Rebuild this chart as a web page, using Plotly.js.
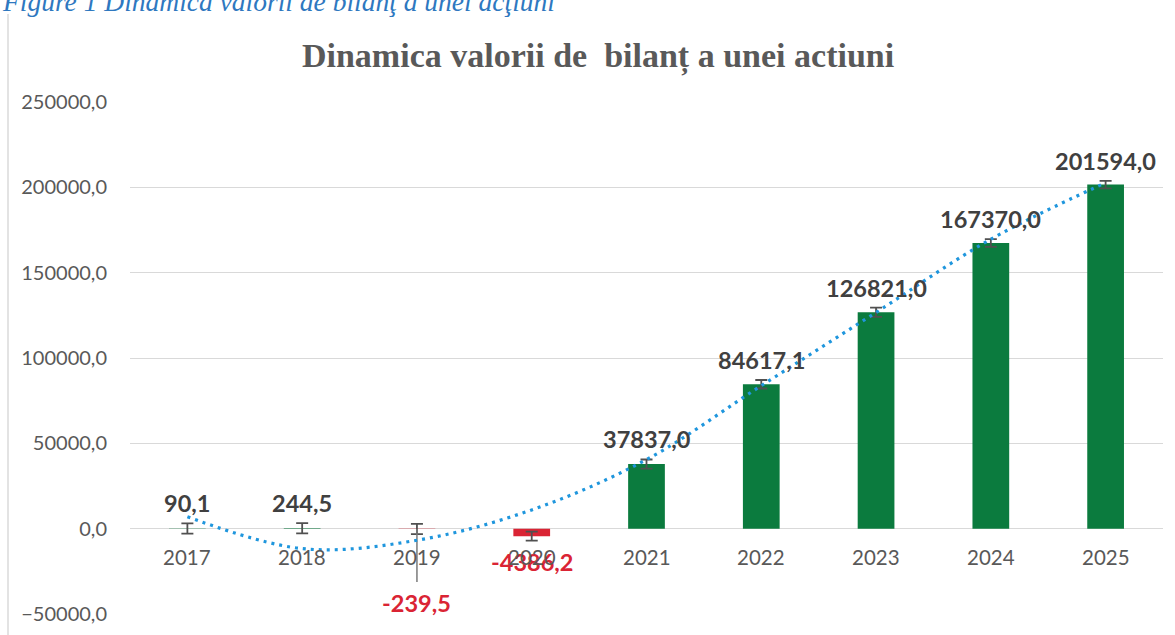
<!DOCTYPE html>
<html>
<head>
<meta charset="utf-8">
<script src="https://cdn.plot.ly/plotly-3.0.1.min.js"></script>
<style>
  html, body { margin: 0; padding: 0; background: #ffffff; }
  #chart { width: 1175px; height: 635px; }
</style>
</head>
<body>
<div id="chart"></div>
<script>
// ---- data ----
const categories = ['2017', '2018', '2019', '2020', '2021', '2022', '2023', '2024', '2025'];
const values = [90.1, 244.5, -239.5, -4386.2, 37837.0, 84617.1, 126821.0, 167370.0, 201594.0];
const errorValues = [3000, 3000, 3000, 2600, 2700, 2500, 2700, 2300, 2200];
const longErrorMinus = [0, 0, 31000, 0, 0, 0, 0, 0, 0];
const trendValues = [7000, -11700, -6800, 11000, 40500, 83800, 126700, 169600, 202700];
const yTickValues = [-50000, 0, 50000, 100000, 150000, 200000, 250000];

const chartTitle = 'Dinamica valorii de\u00A0 bilanț a unei actiuni';
const figureCaption = 'Figure 1 Dinamica valorii de bilanţ a unei acţiuni';

// ---- styles ----
const GREEN = '#0B7B3E';
const RED = '#DA2434';
const GREY_TEXT = '#595959';
const LABEL_TEXT = '#404040';

const fmt = v => v.toFixed(1).replace('.', ',');

const barTrace = {
  type: 'bar',
  x: categories,
  y: values,
  width: 0.32,
  marker: { color: values.map(v => v < 0 ? RED : GREEN), line: { width: 0 } },
  error_y: { type: 'data', array: errorValues, visible: true, color: '#505050', thickness: 1.8, width: 6 },
  hoverinfo: 'x+y',
  showlegend: false
};

const longErrTrace = {
  type: 'scatter',
  mode: 'markers',
  x: categories,
  y: values,
  marker: { opacity: 0, size: 1 },
  error_y: { type: 'data', symmetric: false, array: categories.map(() => 0), arrayminus: longErrorMinus,
             visible: true, color: '#7a7a7a', thickness: 1.5, width: 0 },
  hoverinfo: 'skip',
  showlegend: false
};

const trendTrace = {
  type: 'scatter',
  mode: 'lines',
  x: categories,
  y: trendValues,
  line: { color: '#1F96DD', width: 3.2, dash: '3px,5px', shape: 'spline', smoothing: 1.0 },
  hoverinfo: 'skip',
  showlegend: false
};

const annotations = [];
// data labels (x given as category index)
values.forEach((v, i) => {
  const neg = v < 0;
  const anchorY = neg ? v - Math.max(errorValues[i], longErrorMinus[i]) : v + errorValues[i];
  annotations.push({
    x: i, y: anchorY, xref: 'x', yref: 'y',
    text: '<b>' + fmt(v) + '</b>',
    showarrow: false,
    yanchor: neg ? 'top' : 'bottom',
    yshift: neg ? -5 : 4,
    font: { family: 'Lato, "Open Sans", sans-serif', size: 23.5, color: neg ? RED : LABEL_TEXT }
  });
});
// category labels next to the zero line
categories.forEach((c, i) => {
  annotations.push({
    x: i, y: 0, xref: 'x', yref: 'y',
    text: c,
    showarrow: false,
    yanchor: 'top',
    yshift: -14,
    font: { family: 'Lato, "Open Sans", sans-serif', size: 20.5, color: GREY_TEXT }
  });
});
// figure caption (cut off at the top of the page)
annotations.push({
  x: -130 / 1033, y: 1 + (102 - 19) / 512, xref: 'paper', yref: 'paper',
  xanchor: 'left', yanchor: 'bottom',
  text: '<i>' + figureCaption + '</i>',
  showarrow: false,
  font: { family: '"Liberation Serif", "DejaVu Serif", serif', size: 27.5, color: '#2E78C0' }
});

const layout = {
  width: 1175,
  height: 635,
  margin: { l: 130, r: 12, t: 102, b: 21 },
  paper_bgcolor: '#ffffff',
  plot_bgcolor: '#ffffff',
  separators: ',.',
  title: {
    text: '<b>' + chartTitle + '</b>',
    x: 0.509, xref: 'container', xanchor: 'center',
    y: 1 - 55 / 635, yref: 'container', yanchor: 'middle',
    font: { family: '"Liberation Serif", "DejaVu Serif", serif', size: 34, color: GREY_TEXT }
  },
  xaxis: {
    type: 'category',
    range: [-0.5, categories.length - 0.5],
    showticklabels: false,
    showgrid: false,
    zeroline: false,
    showline: false,
    ticks: ''
  },
  yaxis: {
    range: [-50000, 250000],
    tickvals: yTickValues,
    tickformat: '.1f',
    showgrid: true,
    gridcolor: '#D9D9D9',
    gridwidth: 1,
    zeroline: false,
    showline: false,
    ticks: '',
    ticklabelstandoff: 22,
    tickfont: { family: 'Lato, "Open Sans", sans-serif', size: 20, color: GREY_TEXT }
  },
  annotations: annotations,
  shapes: [
    { type: 'line', xref: 'paper', yref: 'paper',
      x0: (8 - 130) / 1033, x1: (8 - 130) / 1033,
      y0: (614 - 14) / 512, y1: (614 - 640) / 512,
      line: { color: '#D0D0D0', width: 1.2 } }
  ],
  showlegend: false
};

Plotly.newPlot('chart', [barTrace, longErrTrace, trendTrace], layout, { displayModeBar: false, staticPlot: true });
</script>
</body>
</html>
